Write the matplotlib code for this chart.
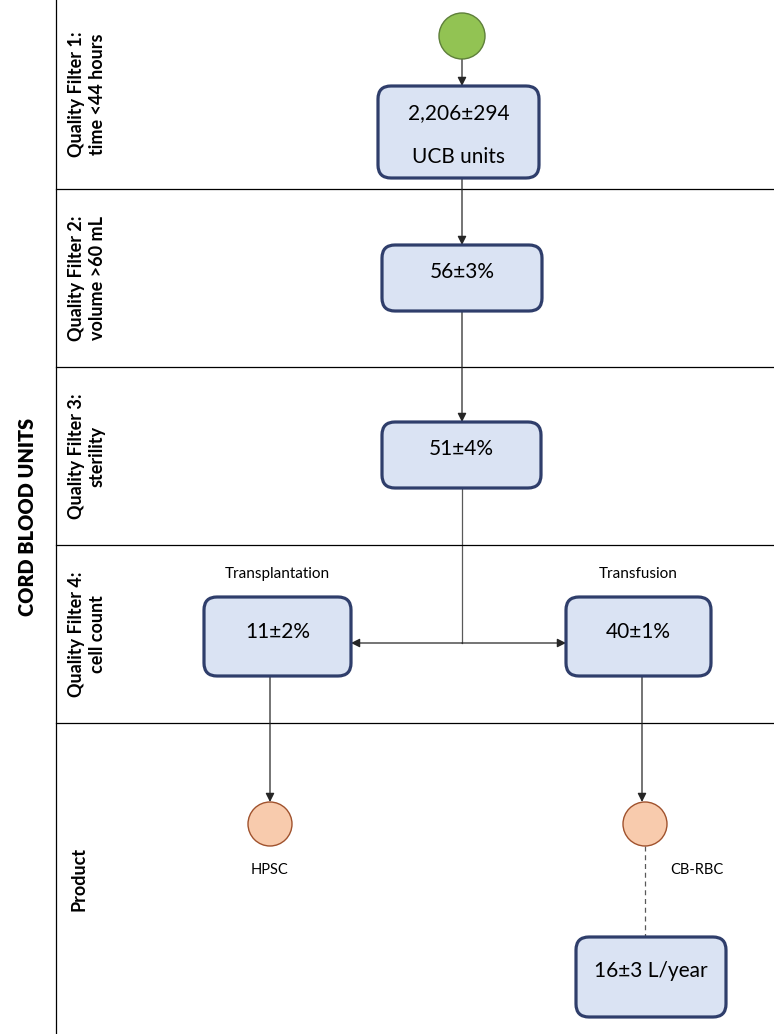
import matplotlib.pyplot as plt
from matplotlib.patches import FancyBboxPatch, Circle

# swimlane flowchart of cord blood unit quality filters

FONT = ["Lato", "DejaVu Sans"]
plt.rcParams["font.family"] = FONT

title = "CORD BLOOD UNITS"
lane_labels = [
    "Quality Filter 1:\ntime <44 hours",
    "Quality Filter 2:\nvolume >60 mL",
    "Quality Filter 3:\nsterility",
    "Quality Filter 4:\ncell count",
    "Product",
]
box_texts = [["2,206±294", "UCB units"], ["56±3%"], ["51±4%"], ["11±2%"], ["40±1%"], ["16±3 L/year"]]
branch_labels = ["Transplantation", "Transfusion"]
product_labels = ["HPSC", "CB-RBC"]

# layout (pixel coordinates, y going down)
W, H = 774, 1034
lane_edges = [0, 189, 367, 545, 723, 1034]
# boxes: x0, y0, x1, y1, text y positions
boxes = [
    (378, 86, 539, 178, [113, 157]),
    (382, 245, 542, 311, [272]),
    (382, 422, 541, 488, [449]),
    (204, 597, 351, 676, [632]),
    (566, 597, 711, 676, [632]),
    (576, 937, 726, 1017, [971]),
]

BOX_FACE = "#DAE3F3"
BOX_EDGE = "#2F3E6B"
LINE = "#595959"

fig = plt.figure(figsize=(W / 100, H / 100), dpi=100)
ax = fig.add_axes([0, 0, 1, 1])
ax.set_xlim(0, W)
ax.set_ylim(H, 0)
ax.axis("off")

# lanes
ax.plot([56, 56], [0, H], color="black", lw=0.9)
for y in lane_edges[1:-1]:
    ax.plot([56, W], [y, y], color="black", lw=0.9)
for i, lab in enumerate(lane_labels):
    yc = (lane_edges[i] + lane_edges[i + 1]) / 2
    xc = 87 if "\n" in lab else 79
    ax.text(xc, yc, lab, rotation=90, ha="center", va="center",
            fontsize=13, fontweight="bold", linespacing=1.25)
ax.text(28, 517, title, rotation=90, ha="center", va="center",
        fontsize=14.3, fontweight="heavy")

# boxes
for (x0, y0, x1, y1, tys), lines in zip(boxes, box_texts):
    ax.add_patch(FancyBboxPatch((x0, y0), x1 - x0, y1 - y0,
                                boxstyle="round,pad=0,rounding_size=13",
                                fc=BOX_FACE, ec=BOX_EDGE, lw=2.3, zorder=3))
    for ty, txt in zip(tys, lines):
        ax.text((x0 + x1) / 2, ty, txt, ha="center", va="center",
                fontsize=15, zorder=4)

# circles
ax.add_patch(Circle((462, 36), 23, fc="#92C353", ec="#5E7F3A", lw=1, zorder=3))
for cx in (270, 645):
    ax.add_patch(Circle((cx, 824), 22, fc="#F8CBAD", ec="#A0522D", lw=1, zorder=3))
ax.text(270, 870, product_labels[0], ha="center", va="center", fontsize=10.5)
ax.text(697, 870, product_labels[1], ha="center", va="center", fontsize=10.5)
ax.text(277, 574, branch_labels[0], ha="center", va="center", fontsize=11)
ax.text(638, 574, branch_labels[1], ha="center", va="center", fontsize=11)


def arrow(x0, y0, x1, y1):
    ax.annotate("", xy=(x1, y1), xytext=(x0, y0),
                arrowprops=dict(arrowstyle="-|>", color="#262626", lw=0.9,
                                mutation_scale=13, shrinkA=0, shrinkB=0),
                zorder=2)


arrow(462, 59, 462, 86)
arrow(462, 178, 462, 245)
arrow(462, 311, 462, 422)
ax.plot([462, 462], [488, 643], color=LINE, lw=0.9, zorder=1)
arrow(462, 643, 351, 643)
arrow(462, 643, 566, 643)
arrow(270, 676, 270, 802)
arrow(642, 676, 642, 802)
ax.plot([645, 645], [846, 937], color=LINE, lw=0.9, ls=(0, (4, 3)), zorder=1)

fig.savefig("out.png", dpi=100)
